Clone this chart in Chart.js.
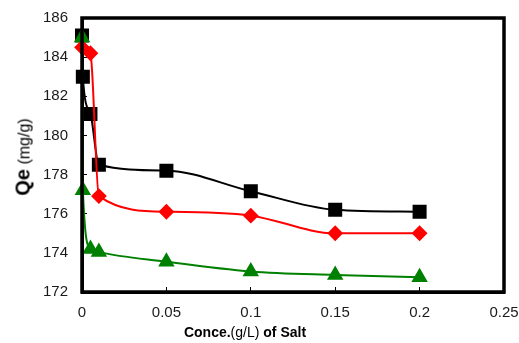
<!DOCTYPE html>
<html>
<head>
<meta charset="utf-8">
<script src="https://cdn.jsdelivr.net/npm/chart.js@4"></script>
<style>
  body { margin:0; background:#fff; font-family:"Liberation Sans", Arial, sans-serif; }
  #wrap { position:relative; width:519px; height:343px; }
  #ytitle { position:absolute; left:23px; top:157px; transform:translate(-50%,-50%) rotate(-90deg); white-space:nowrap; color:#000; }
  #xtitle { position:absolute; left:245px; top:332px; transform:translate(-50%,-50%); white-space:nowrap; font-size:14px; color:#000; }
</style>
</head>
<body>
<div id="wrap">
  <canvas id="c" width="519" height="343"></canvas>
  <div id="ytitle"><b style="font-size:20px">Qe</b> <span style="font-size:16px">(mg/g)</span></div>
  <div id="xtitle"><b>Conce.</b>(g/L) <b>of Salt</b></div>
</div>
<script>
let blackX = [0, 0.0005, 0.005, 0.01, 0.05, 0.1, 0.15, 0.2];
let blackY = [185.1, 183.0, 181.1, 178.5, 178.2, 177.15, 176.2, 176.1];
let redX = [0, 0.005, 0.01, 0.05, 0.1, 0.15, 0.2];
let redY = [184.5, 184.2, 176.9, 176.1, 175.9, 175.0, 175.0];
let greenX = [0, 0.0005, 0.005, 0.01, 0.05, 0.1, 0.15, 0.2];
let greenY = [185.0, 177.2, 174.2, 174.05, 173.55, 173.05, 172.87, 172.75];
let xTicks = [0, 0.05, 0.1, 0.15, 0.2, 0.25];
let yTicks = [172, 174, 176, 178, 180, 182, 184, 186];

function pts(xs, ys){ return xs.map((x,i)=>({x:x, y:ys[i]})); }

const frame = {
  id:'frame',
  afterDatasetsDraw(chart){
    const a = chart.chartArea, ctx = chart.ctx;
    ctx.save();
    ctx.strokeStyle = '#000'; ctx.lineWidth = 3.5;
    ctx.strokeRect(a.left, a.top, a.right-a.left, a.bottom-a.top);
    ctx.restore();
  }
};

new Chart(document.getElementById('c'), {
  type:'line',
  data:{ datasets:[
    { label:'black', data:pts(blackX, blackY), borderColor:'#000', backgroundColor:'#000',
      pointStyle:'rect', pointRadius:8.5, borderWidth:2, cubicInterpolationMode:'monotone', order:2, clip:false },
    { label:'red', data:pts(redX, redY), borderColor:'#ff0000', backgroundColor:'#ff0000',
      pointStyle:'rectRot', pointRadius:6.5, borderWidth:2, cubicInterpolationMode:'monotone', order:1, clip:false },
    { label:'green', data:pts(greenX, greenY), borderColor:'#008000', backgroundColor:'#008000',
      pointStyle:'triangle', pointRadius:7.5, borderWidth:2, cubicInterpolationMode:'monotone', order:0, clip:false }
  ]},
  options:{
    responsive:false, animation:false,
    layout:{ padding:{ top:18, right:15, left:0, bottom:0 } },
    plugins:{ legend:{display:false}, tooltip:{enabled:false} },
    scales:{
      x:{ type:'linear', min:0, max:0.25,
        afterBuildTicks(s){ s.ticks = xTicks.map(v=>({value:v})); },
        afterFit(s){ s.height = 51; s.paddingLeft = 0; s.paddingRight = 0; },
        ticks:{ color:'#1a1a1a', font:{family:'Liberation Sans', size:15}, padding:17,
          callback:v=>String(v) },
        grid:{ drawOnChartArea:false, color:'#000', tickLength:-5, tickColor:'#000' },
        border:{ color:'#000', width:3 } },
      y:{ min:172, max:186,
        afterBuildTicks(s){ s.ticks = yTicks.map(v=>({value:v})); },
        afterFit(s){ s.width = 82; s.paddingTop = 0; s.paddingBottom = 0; },
        ticks:{ color:'#1a1a1a', font:{family:'Liberation Sans', size:15}, padding:19 },
        grid:{ drawOnChartArea:false, color:'#000', tickLength:-5, tickColor:'#000' },
        border:{ color:'#000', width:3 } }
    }
  },
  plugins:[frame]
});
</script>
</body>
</html>
